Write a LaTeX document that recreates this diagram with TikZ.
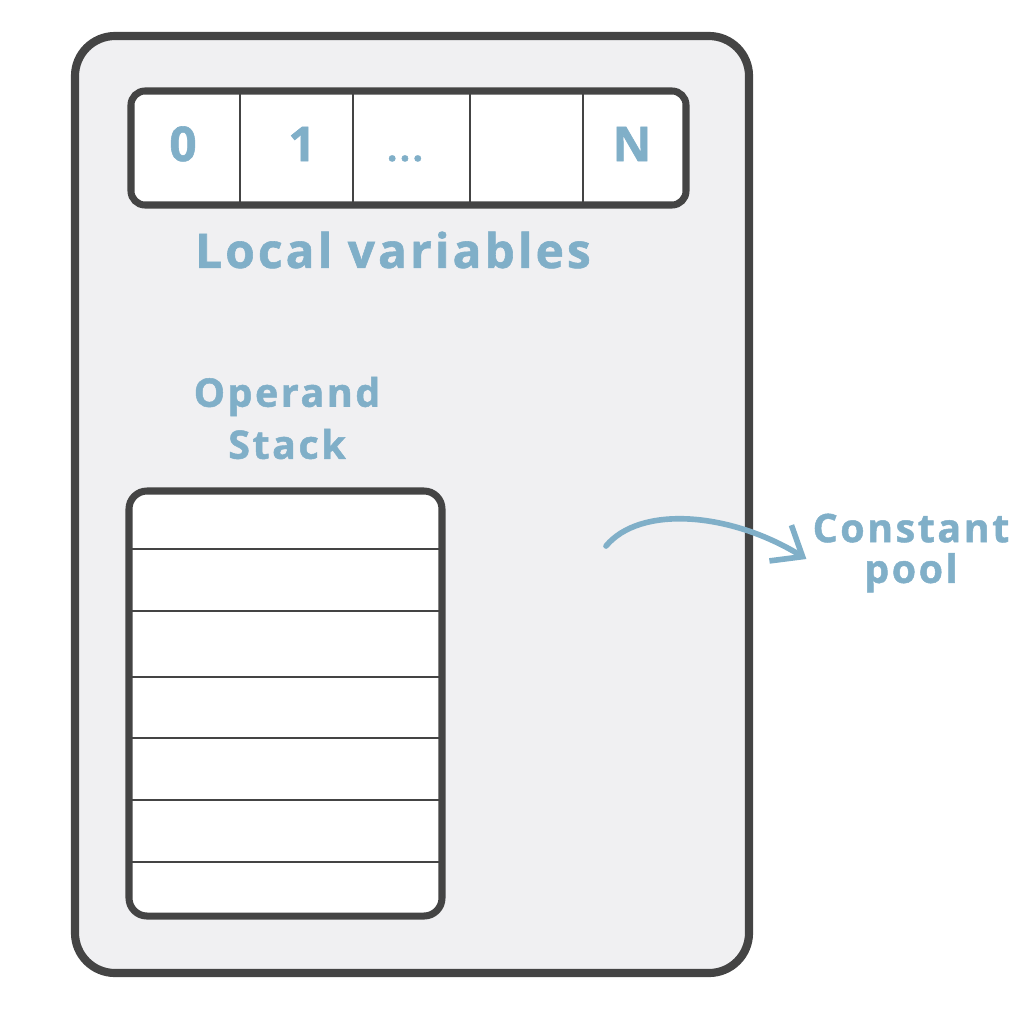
\documentclass[tikz,border=0pt]{standalone}
\usepackage{fontspec}
\setmainfont{Open Sans}
\newfontfamily\labelfont{Open Sans}[LetterSpace=6.5,FakeBold=1.2]
\usetikzlibrary{arrows.meta}

\definecolor{framegray}{HTML}{F0F0F2}
\definecolor{edgegray}{HTML}{444444}
\definecolor{labelblue}{HTML}{80AFC8}

\begin{document}
\begin{tikzpicture}[x=0.025cm,y=-0.025cm,
  boxline/.style={draw=edgegray,line width=5pt},
  rowline/.style={draw=edgegray,line width=1.3pt},
  txt/.style={text=labelblue,font=\labelfont\bfseries\fontsize{34}{38}\selectfont,align=center,inner sep=0pt},
  cell/.style={txt,anchor=base},
  smalltxt/.style={txt,font=\labelfont\bfseries\fontsize{28}{37}\selectfont}]

\useasboundingbox (0,0) rectangle (1036,1008);

% frame
\draw[boxline,line width=5.8pt,fill=framegray,rounded corners=1cm] (75,36) rectangle (749,973);

% local variables
\draw[boxline,fill=white,rounded corners=0.35cm] (131,91) rectangle (686,205);
\foreach \x in {240,353,470,583}
  \draw[rowline] (\x,91) -- (\x,205);

\node[cell] (v0) at (183,161) {0};
\node[cell] (v1) at (302,161) {1};
\node[cell,font=\labelfont\bfseries\fontsize{26}{30}\selectfont] (vdots) at (405,161) {...};
\node[cell] (vn) at (632,161) {N};

\node[txt] (locals) at (393,250) {Local variables};

% operand stack
\node[smalltxt] (operand) at (287,418) {Operand\\Stack};

\draw[boxline,fill=white,rounded corners=0.45cm] (129,491) rectangle (442,916);
\foreach \y in {549,611,677,738,800,862}
  \draw[rowline] (129,\y) -- (442,\y);

% constant pool
\node[smalltxt,font=\labelfont\bfseries\fontsize{28}{29}\selectfont] (pool) at (911,553) {Constant\\pool};
\coordinate (src) at (606,546);
\draw[labelblue,line width=4pt,line cap=round,-{Straight Barb[length=0.65cm,width=1.05cm,line width=4pt]}]
  (src) .. controls (640,505) and (730,512) .. ([xshift=-0.15cm,yshift=-0.15cm]pool.west);

\end{tikzpicture}
\end{document}
